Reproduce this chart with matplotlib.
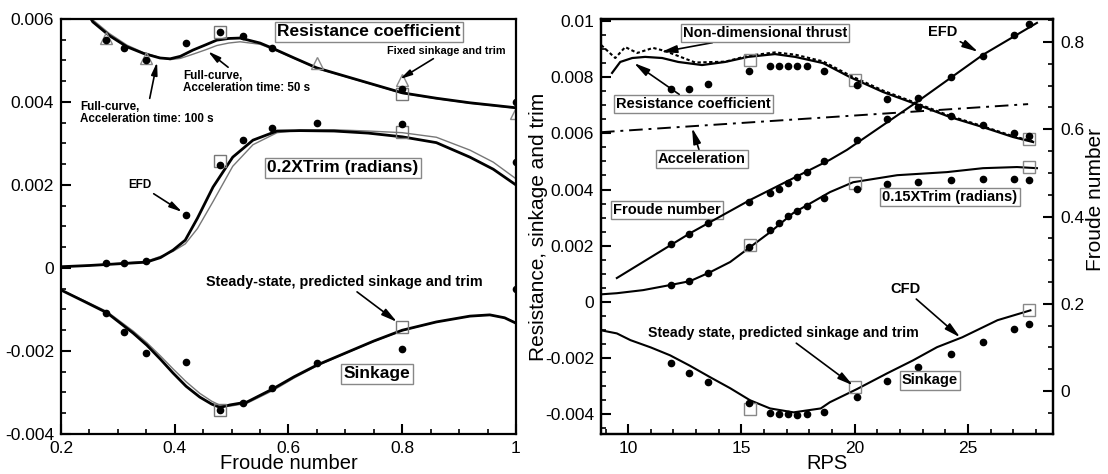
import numpy as np
import matplotlib
matplotlib.use("Agg")
import matplotlib.pyplot as plt
from matplotlib.ticker import MultipleLocator, FuncFormatter

plt.rcParams['font.family'] = ['Liberation Sans', 'DejaVu Sans']

# ---------------- left panel data (Froude number) ----------------
fr_cfd = [0.24, 0.256, 0.285, 0.316, 0.345, 0.374, 0.392, 0.41, 0.432, 0.455, 0.474, 0.495,
          0.515, 0.55, 0.571, 0.61, 0.65, 0.70, 0.75, 0.80, 0.86, 0.919, 0.96, 1.0]
res_100s = [0.0063, 0.00593, 0.0056, 0.00533, 0.00517, 0.00506, 0.00504, 0.0051, 0.00525, 0.00538,
            0.00549, 0.00553, 0.00554, 0.00542, 0.0053, 0.00506, 0.00482, 0.00462, 0.00442, 0.00422,
            0.00409, 0.00398, 0.00392, 0.00386]
res_50s = [0.0064, 0.00598, 0.00565, 0.00537, 0.00519, 0.00507, 0.00502, 0.00505, 0.00515, 0.00526,
           0.00536, 0.00542, 0.00545, 0.00539, 0.00528, 0.00505, 0.00481, 0.00461, 0.00441, 0.00421,
           0.00408, 0.00397, 0.00391, 0.00385]

fr_trim = [0.2, 0.25, 0.3, 0.35, 0.375, 0.397, 0.4185, 0.44, 0.4674, 0.502, 0.5376, 0.58, 0.62,
           0.68, 0.74, 0.80, 0.86, 0.919, 0.96, 1.0]
trim_100s = [0.00003, 0.00006, 0.0001, 0.00014, 0.00025, 0.00043, 0.00067, 0.0012, 0.00195, 0.00267,
             0.00308, 0.0033, 0.00331, 0.0033, 0.00325, 0.00316, 0.00302, 0.00267, 0.00238, 0.002]
trim_50s = [0.00003, 0.00006, 0.00011, 0.00016, 0.00028, 0.0004, 0.00058, 0.00095, 0.0016, 0.00245,
            0.00297, 0.00326, 0.00332, 0.00333, 0.0033, 0.00326, 0.00315, 0.00284, 0.00255, 0.00215]

fr_sink = [0.2, 0.24, 0.281, 0.327, 0.351, 0.375, 0.397, 0.42, 0.444, 0.465, 0.48, 0.497, 0.527,
           0.573, 0.61, 0.65, 0.70, 0.75, 0.80, 0.86, 0.919, 0.954, 0.98, 1.0]
sink_100s = [-0.00053, -0.0008, -0.00108, -0.00157, -0.00186, -0.0022, -0.00253, -0.00285, -0.00311,
             -0.00328, -0.00336, -0.0033, -0.00323, -0.00291, -0.00262, -0.00234, -0.00205, -0.00176,
             -0.0015, -0.0013, -0.00116, -0.00113, -0.0012, -0.00133]
sink_50s = [-0.00053, -0.00078, -0.00105, -0.00152, -0.0018, -0.00212, -0.00243, -0.00274, -0.00302,
            -0.00321, -0.00331, -0.00333, -0.00326, -0.00295, -0.00265, -0.00236, -0.00206, -0.00177,
            -0.00151, -0.0013, -0.00116, -0.00113, -0.0012, -0.00132]

fr_efd_res = [0.279, 0.311, 0.349, 0.419, 0.48, 0.52, 0.571, 0.80, 1.0]
res_efd = [0.00549, 0.0053, 0.00501, 0.00542, 0.00569, 0.00559, 0.0053, 0.00431, 0.0040]
fr_efd = [0.279, 0.311, 0.349, 0.419, 0.48, 0.52, 0.571, 0.65, 0.80, 1.0]
trim_efd = [0.00012, 0.00012, 0.00017, 0.00128, 0.00248, 0.00308, 0.00337, 0.0035, 0.00347, 0.00255]
sink_efd = [-0.00108, -0.00154, -0.00205, -0.00226, -0.00342, -0.00325, -0.00289, -0.00229, -0.00195, -0.0005]

fr_steady = [0.48, 0.80]
res_steady = [0.00569, 0.00418]
trim_steady = [0.00257, 0.00328]
sink_steady = [-0.00342, -0.00142]

fr_fixed = [0.279, 0.349, 0.65, 0.80, 1.0]
res_fixed = [0.00553, 0.00506, 0.00494, 0.00453, 0.00373]

# ---------------- right panel data (RPS) ----------------
rps_res = [9.29, 9.65, 10.18, 10.75, 11.5, 12.21, 13.26, 14.28, 15.29, 16.48, 17.37, 18.6, 19.79,
           21.25, 22.57, 24.2, 25.66, 26.98, 27.87]
res_cfd = [0.00815, 0.00854, 0.00868, 0.00872, 0.00868, 0.00854, 0.00843, 0.00854, 0.00872, 0.00882,
           0.00872, 0.0085, 0.008, 0.00747, 0.00708, 0.00658, 0.00622, 0.00587, 0.00569]
rps_thrust = [8.81, 9.43, 9.87, 10.4, 11.1, 11.63, 12.96, 14.28, 15.29, 16.48, 17.37, 18.6, 19.79,
              21.25, 22.57, 24.2, 25.66, 26.98, 27.87]
thrust = [0.00914, 0.00868, 0.00907, 0.00886, 0.00904, 0.00893, 0.00852, 0.00855, 0.00876, 0.00888,
          0.0088, 0.00856, 0.00806, 0.00752, 0.00712, 0.00662, 0.00625, 0.0059, 0.00571]
rps_accel = [8.8, 27.65]
accel = [0.00604, 0.00704]

rps_fr = [9.5, 12.74, 15.38, 18.9, 19.66, 22.75, 25.66, 28.04]
froude = [0.259, 0.362, 0.438, 0.53, 0.553, 0.663, 0.771, 0.844]

rps_trim = [8.8, 9.5, 10.66, 11.85, 12.73, 13.62, 14.5, 15.38, 16.26, 17.28, 18.91, 19.93, 21.87,
            24.07, 25.66, 27.16, 28.04]
trim_cfd = [0.00027, 0.00031, 0.00042, 0.0006, 0.00074, 0.00106, 0.00142, 0.00195, 0.00248, 0.00316,
            0.00391, 0.00426, 0.00451, 0.00462, 0.00476, 0.0048, 0.00476]

rps_sink = [8.8, 9.5, 10.1, 11.0, 11.85, 12.7, 13.62, 14.5, 15.38, 16.26, 17.3, 18.5, 18.9, 20.1,
            21.43, 22.57, 23.63, 24.74, 26.3, 27.75]
sink_cfd = [-0.00101, -0.00112, -0.00136, -0.00162, -0.0019, -0.00226, -0.00268, -0.00307, -0.0035,
            -0.00379, -0.00393, -0.00379, -0.00357, -0.0031, -0.00254, -0.00208, -0.00161, -0.00126,
            -0.00065, -0.0003]

rps_efd = [11.9, 12.7, 13.53, 15.34, 16.26, 16.66, 17.06, 17.46, 17.9, 18.65, 20.1, 21.43, 22.8,
           24.25, 25.66, 27.03, 27.7]
res_efd_r = [0.00758, 0.00758, 0.00775, 0.00822, 0.00839, 0.0084, 0.0084, 0.00839, 0.00839, 0.00822,
             0.00772, 0.00722, 0.00692, 0.0066, 0.0063, 0.00601, 0.00589]
fr_efd_r = [0.337, 0.36, 0.385, 0.434, 0.454, 0.463, 0.477, 0.491, 0.502, 0.528, 0.576, 0.624, 0.672,
            0.72, 0.768, 0.817, 0.842]
trim_efd_r = [0.0006, 0.00074, 0.00102, 0.00195, 0.00255, 0.0028, 0.00305, 0.00325, 0.00342, 0.00369,
              0.00402, 0.0042, 0.00427, 0.00434, 0.00437, 0.00437, 0.00434]
sink_efd_r = [-0.00218, -0.00254, -0.00286, -0.00361, -0.00397, -0.004, -0.004, -0.00404, -0.004,
              -0.0039, -0.00339, -0.00282, -0.00233, -0.00186, -0.00144, -0.00097, -0.0008]

rps_steady = [15.38, 20.0, 27.7]
res_steady_r = [0.0086, 0.0079, 0.0058]
trim_steady_r = [0.00202, 0.00423, 0.0048]
sink_steady_r = [-0.00382, -0.00304, -0.0003]


def tick_fmt(v, pos):
    if abs(v) < 1e-12:
        return '0'
    return ('%g' % round(v, 6))


def style_axis(ax):
    for s in ax.spines.values():
        s.set_linewidth(1.6)
    ax.tick_params(which='major', direction='in', length=7, width=1.5, labelsize=12.5, pad=5)
    ax.tick_params(which='minor', direction='in', length=3.5, width=1.2)
    ax.tick_params(top=False, right=False, which='both')


box = dict(boxstyle='square,pad=0.15', fc='white', ec='#888888', lw=1)
arrow = dict(arrowstyle='-|>,head_length=0.9,head_width=0.22', color='k', lw=1.2, shrinkA=0, shrinkB=0)

fig = plt.figure(figsize=(11.08, 4.74), dpi=100)

# ===== left panel =====
ax1 = fig.add_axes([0.055, 0.0844, 0.4107, 0.8756])
ax1.plot(fr_cfd, res_50s, color='#777777', lw=1.0)
ax1.plot(fr_trim, trim_50s, color='#777777', lw=1.0)
ax1.plot(fr_sink, sink_50s, color='#777777', lw=1.0)
ax1.plot(fr_cfd, res_100s, color='k', lw=2.0)
ax1.plot(fr_trim, trim_100s, color='k', lw=2.0)
ax1.plot(fr_sink, sink_100s, color='k', lw=2.0)
ax1.plot(fr_fixed, res_fixed, ls='none', marker='^', ms=8, mfc='none', mec='#888888', mew=1)
for yy in (res_steady, trim_steady, sink_steady):
    ax1.plot(fr_steady, yy, ls='none', marker='s', ms=9, mfc='none', mec='#777777', mew=1)
ax1.plot(fr_efd_res, res_efd, ls='none', marker='o', ms=4.5, color='k')
ax1.plot(fr_efd, trim_efd, ls='none', marker='o', ms=4.5, color='k')
ax1.plot(fr_efd, sink_efd, ls='none', marker='o', ms=4.5, color='k')

ax1.set_xlim(0.2, 1.0)
ax1.set_ylim(-0.004, 0.006)
ax1.xaxis.set_major_locator(MultipleLocator(0.2))
ax1.xaxis.set_minor_locator(MultipleLocator(0.05))
ax1.yaxis.set_major_locator(MultipleLocator(0.002))
ax1.yaxis.set_minor_locator(MultipleLocator(0.0005))
ax1.xaxis.set_major_formatter(FuncFormatter(tick_fmt))
ax1.yaxis.set_major_formatter(FuncFormatter(tick_fmt))
style_axis(ax1)
ax1.set_xlabel('Froude number', fontsize=14.5, labelpad=-1.5)

ax1.text(0.7415, 0.00569, 'Resistance coefficient', fontsize=12.5, fontweight='bold',
         ha='center', va='center', bbox=box)
ax1.text(0.696, 0.00241, '0.2XTrim (radians)', fontsize=12.5, fontweight='bold',
         ha='center', va='center', bbox=box)
ax1.text(0.7556, -0.00255, 'Sinkage', fontsize=12.5, fontweight='bold',
         ha='center', va='center', bbox=box)
ax1.annotate('Fixed sinkage and trim', xy=(0.796, 0.00455), xytext=(0.877, 0.00523),
             fontsize=7.8, fontweight='bold', ha='center', va='center', arrowprops=arrow)
ax1.annotate('Full-curve,\nAcceleration time: 50 s', xy=(0.4585, 0.00522), xytext=(0.4145, 0.00477),
             fontsize=8.4, fontweight='bold', ha='left', va='top', linespacing=0.95, arrowprops=arrow)
ax1.annotate('Full-curve,\nAcceleration time: 100 s', xy=(0.369, 0.00496), xytext=(0.2334, 0.00402),
             fontsize=8.4, fontweight='bold', ha='left', va='top', linespacing=0.95, arrowprops=arrow)
ax1.annotate('EFD', xy=(0.413, 0.00135), xytext=(0.339, 0.0020),
             fontsize=8.4, fontweight='bold', ha='center', va='center', arrowprops=arrow)
ax1.annotate('Steady-state, predicted sinkage and trim', xy=(0.7908, -0.0013), xytext=(0.6977, -0.00034),
             fontsize=10.4, fontweight='bold', ha='center', va='center', arrowprops=arrow)

# ===== right panel =====
ax2 = fig.add_axes([0.5424, 0.0844, 0.408, 0.8756])
ax3 = ax2.twinx()
ax2.plot(rps_thrust, thrust, color='k', lw=1.5, ls=(0, (1.6, 1.2)))
ax2.plot(rps_res, res_cfd, color='k', lw=1.6)
ax2.plot(rps_accel, accel, color='k', lw=1.4, ls=(0, (7, 3, 1.5, 3)))
ax2.plot(rps_trim, trim_cfd, color='k', lw=1.5)
ax2.plot(rps_sink, sink_cfd, color='k', lw=1.5)
ax3.plot(rps_fr, froude, color='k', lw=1.5)
for yy in (res_steady_r, trim_steady_r, sink_steady_r):
    ax2.plot(rps_steady, yy, ls='none', marker='s', ms=8, mfc='none', mec='#888888', mew=1)
ax2.plot(rps_efd, res_efd_r, ls='none', marker='o', ms=4.5, color='k')
ax2.plot(rps_efd, trim_efd_r, ls='none', marker='o', ms=4.5, color='k')
ax2.plot(rps_efd, sink_efd_r, ls='none', marker='o', ms=4.5, color='k')
ax3.plot(rps_efd, fr_efd_r, ls='none', marker='o', ms=4.5, color='k')

ax2.set_xlim(8.8, 28.75)
ax2.set_ylim(-0.0047, 0.01007)
ax3.set_ylim(-0.0986, 0.853)
ax2.xaxis.set_major_locator(MultipleLocator(5))
ax2.xaxis.set_minor_locator(MultipleLocator(1))
ax2.yaxis.set_major_locator(MultipleLocator(0.002))
ax2.yaxis.set_minor_locator(MultipleLocator(0.0005))
ax3.yaxis.set_major_locator(MultipleLocator(0.2))
ax3.yaxis.set_minor_locator(MultipleLocator(0.05))
ax2.xaxis.set_major_formatter(FuncFormatter(tick_fmt))
ax2.yaxis.set_major_formatter(FuncFormatter(tick_fmt))
ax3.yaxis.set_major_formatter(FuncFormatter(tick_fmt))
style_axis(ax2)
for s in ax3.spines.values():
    s.set_linewidth(1.6)
ax3.tick_params(which='major', direction='in', length=7, width=1.5, labelsize=12.5, pad=5)
ax3.tick_params(which='minor', direction='in', length=3.5, width=1.2)

ax2.set_xlabel('RPS', fontsize=14.5, labelpad=-1.5)
ax2.set_ylabel('Resistance, sinkage and trim', fontsize=15)
ax2.yaxis.set_label_coords(-0.117, 0.5)
ax3.set_ylabel('Froude number', fontsize=15)
ax3.yaxis.set_label_coords(1.074, 0.564)

ax2.annotate('Non-dimensional thrust', xy=(11.45, 0.00889), xytext=(16.04, 0.00957),
             fontsize=10.5, fontweight='bold', ha='center', va='center', bbox=box, arrowprops=arrow)
ax2.annotate('Resistance coefficient', xy=(10.26, 0.0085), xytext=(12.87, 0.00704),
             fontsize=10.5, fontweight='bold', ha='center', va='center', bbox=box, arrowprops=arrow)
ax2.annotate('Acceleration', xy=(12.82, 0.00619), xytext=(13.26, 0.00508),
             fontsize=10.5, fontweight='bold', ha='center', va='center', bbox=box, arrowprops=arrow)
ax2.text(11.72, 0.00327, 'Froude number', fontsize=10.5, fontweight='bold',
         ha='center', va='center', bbox=box)
ax2.text(24.2, 0.00373, '0.15XTrim (radians)', fontsize=10.5, fontweight='bold',
         ha='center', va='center', bbox=box)
ax2.text(23.32, -0.00279, 'Sinkage', fontsize=10.5, fontweight='bold',
         ha='center', va='center', bbox=box)
ax2.annotate('EFD', xy=(25.44, 0.0089), xytext=(23.9, 0.00961),
             fontsize=10.5, fontweight='bold', ha='center', va='center', arrowprops=arrow)
ax2.annotate('CFD', xy=(24.65, -0.00126), xytext=(22.22, 0.00045),
             fontsize=10.5, fontweight='bold', ha='center', va='center', arrowprops=arrow)
ax2.annotate('Steady state, predicted sinkage and trim', xy=(19.92, -0.00297), xytext=(16.84, -0.00112),
             fontsize=10.2, fontweight='bold', ha='center', va='center', arrowprops=arrow)

fig.savefig('out.png', dpi=100)
